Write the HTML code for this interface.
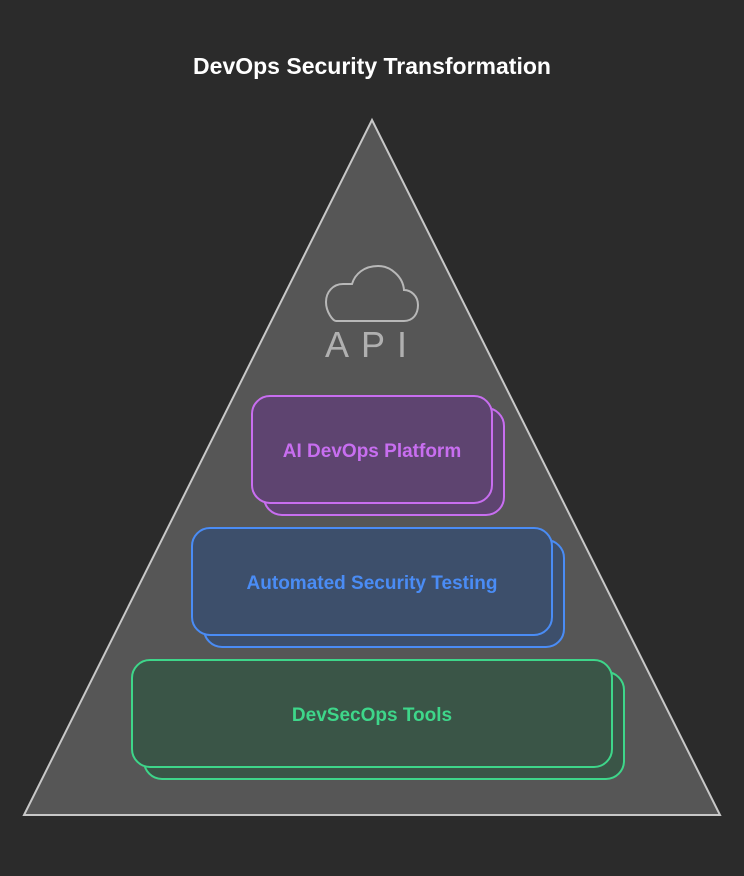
<!DOCTYPE html>
<html><head><meta charset="utf-8"><style>
html,body{margin:0;padding:0;background:#2b2b2b;}
svg{display:block}
text{font-family:"Liberation Sans",sans-serif;font-weight:bold;}
</style></head><body>
<svg width="744" height="876" viewBox="0 0 744 876" xmlns="http://www.w3.org/2000/svg">
<rect width="744" height="876" fill="#2b2b2b"/>
<text x="372" y="74" text-anchor="middle" font-size="23" fill="#ffffff">DevOps Security Transformation</text>
<polygon points="372,120 720,815 24,815" fill="#565656" stroke="#c8c8c8" stroke-width="2"/>
<path d="M336,321 L404,321 C413,321 418,314 418,305 C418,296 411,290 404,290 C403,277 391,266 378,266 C364,266 355,274 352,284 L343,284 C333,284 326,292 326,302 C326,312 333,321 336,321 Z" fill="none" stroke="#b8b8b8" stroke-width="2"/>
<text x="372" y="357" text-anchor="middle" font-size="36" fill="#b0b0b0" font-weight="normal" letter-spacing="12" style="font-family:'Liberation Sans',sans-serif;font-weight:normal">API</text>
<rect x="264" y="408" width="240" height="107" rx="18" fill="#5e4470" stroke="#c86ef0" stroke-width="2"/>
<rect x="252" y="396" width="240" height="107" rx="18" fill="#5e4470" stroke="#c86ef0" stroke-width="2"/>
<text x="372" y="457" text-anchor="middle" font-size="19" fill="#c86ef0">AI DevOps Platform</text>
<rect x="204" y="540" width="360" height="107" rx="18" fill="#3d4f6b" stroke="#4a8cf5" stroke-width="2"/>
<rect x="192" y="528" width="360" height="107" rx="18" fill="#3d4f6b" stroke="#4a8cf5" stroke-width="2"/>
<text x="372" y="589" text-anchor="middle" font-size="19" fill="#4a8cf5">Automated Security Testing</text>
<rect x="144" y="672" width="480" height="107" rx="18" fill="#3a5547" stroke="#3ed68a" stroke-width="2"/>
<rect x="132" y="660" width="480" height="107" rx="18" fill="#3a5547" stroke="#3ed68a" stroke-width="2"/>
<text x="372" y="721" text-anchor="middle" font-size="19" fill="#3ed68a">DevSecOps Tools</text>
</svg>
</body></html>
